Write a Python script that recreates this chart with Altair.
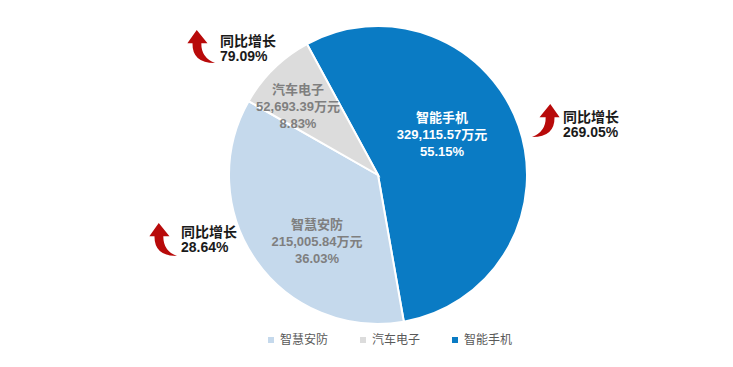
import altair as alt
import pandas as pd

# data
categories = ["智能手机", "智慧安防", "汽车电子"]
amounts = [329115.57, 215005.84, 52693.39]
shares = [55.15, 36.03, 8.83]
growth = [269.05, 28.64, 79.09]
legend_order = ["智慧安防", "汽车电子", "智能手机"]
colors = {"智能手机": "#0A7BC4", "智慧安防": "#C5D9EC", "汽车电子": "#DCDCDC"}

df = pd.DataFrame({
    "name": categories,
    "amount": amounts,
    "share": shares,
    "growth": growth,
    "order": [0, 1, 2],
})

FONT = "Liberation Sans, Noto Sans CJK SC"
PI = 3.141592653589793
start = -28.5 * PI / 180

base = alt.Chart(df)

pie = base.mark_arc(radius=149, stroke="white", strokeWidth=2).encode(
    theta=alt.Theta("share:Q", stack=True,
                    scale=alt.Scale(range=[start, start + 2 * PI])),
    order=alt.Order("order:Q"),
    color=alt.Color("name:N",
                    scale=alt.Scale(domain=legend_order,
                                    range=[colors[c] for c in legend_order]),
                    legend=alt.Legend(title=None, orient="none", direction="horizontal",
                                      legendX=257, legendY=326,
                                      symbolType="square", symbolSize=36,
                                      symbolStrokeWidth=0,
                                      labelFont="Noto Sans CJK SC", labelFontSize=12,
                                      labelColor="#595959", labelOffset=3,
                                      columnPadding=28)),
    x=alt.value(370),
    y=alt.value(167),
)

# first-line positions of the slice labels
label_pos = {"智能手机": (434, 110, "white"),
             "智慧安防": (309, 217, "#7F7F7F"),
             "汽车电子": (290, 82, "#7F7F7F")}

layers = [pie]
for name, (lx, ly, col) in label_pos.items():
    layers.append(
        base.transform_filter(alt.datum.name == name)
        .transform_calculate(
            lbl="[datum.name, format(datum.amount, ',.2f') + '万元', format(datum.share, '.2f') + '%']")
        .mark_text(font=FONT, fontSize=13, fontWeight="bold", color=col,
                   align="center", baseline="middle", lineHeight=17)
        .encode(text="lbl:N", x=alt.value(lx), y=alt.value(ly))
    )

arrow_left = ("M -0.25 -1 L 0.38 -0.22 L 0.02 -0.22 Q 0.0 0.62 0.82 0.94 "
              "Q -0.52 0.95 -0.5 -0.22 L -0.8 -0.22 Z")
arrow_right = ("M 0.25 -1 L -0.38 -0.22 L -0.02 -0.22 Q 0.0 0.62 -0.82 0.94 "
               "Q 0.52 0.95 0.5 -0.22 L 0.8 -0.22 Z")

growth_pos = {"汽车电子": (193, 39, 212, 34, arrow_left),
              "智能手机": (538, 113, 555, 110, arrow_right),
              "智慧安防": (155, 232, 173, 225, arrow_left)}

for name, (ax, ay, tx, ty, shape) in growth_pos.items():
    layers.append(
        base.transform_filter(alt.datum.name == name)
        .mark_point(shape=shape, filled=True, color="#B80A0A", opacity=1, size=1160,
                    strokeWidth=0)
        .encode(x=alt.value(ax), y=alt.value(ay))
    )
    layers.append(
        base.transform_filter(alt.datum.name == name)
        .transform_calculate(g="['同比增长', format(datum.growth, '.2f') + '%']")
        .mark_text(font=FONT, fontSize=14, fontWeight="bold", color="#1A1A1A",
                   align="left", baseline="middle", lineHeight=15)
        .encode(text="g:N", x=alt.value(tx), y=alt.value(ty))
    )

chart = alt.layer(*layers).properties(
    width=717, height=351,
    autosize=alt.AutoSizeParams(type="none"),
    padding=0,
    background="white",
).configure_view(stroke=None)

chart.save("out.html", embed_options={"renderer": "svg", "actions": False})
